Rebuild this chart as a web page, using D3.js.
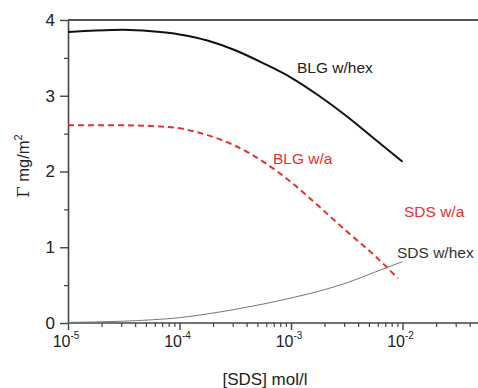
<!DOCTYPE html>
<html>
<head>
<meta charset="utf-8">
<script src="https://cdn.jsdelivr.net/npm/d3@7"></script>
<style>
  body { margin: 0; background: #fff; }
  svg { display: block; font-family: "Liberation Sans", Arial, sans-serif; }
</style>
</head>
<body>
<div id="chart"></div>
<script>
// concentrations (mol/l) on the log axis
const sdsConc = [1e-5, 1.78e-5, 3.16e-5, 5.62e-5, 1e-4, 1.78e-4, 3.16e-4, 5.62e-4, 1e-3, 1.78e-3, 3.16e-3, 5.62e-3, 1e-2];
const sdsConcRed = [1e-5, 1.78e-5, 3.16e-5, 5.62e-5, 1e-4, 1.78e-4, 3.16e-4, 5.62e-4, 1e-3, 1.78e-3, 3.16e-3, 5.62e-3, 9.1e-3];

const blgHex = [3.84, 3.86, 3.87, 3.85, 3.81, 3.73, 3.60, 3.43, 3.24, 3.00, 2.73, 2.43, 2.13];
const blgWa = [2.61, 2.61, 2.61, 2.60, 2.57, 2.48, 2.34, 2.13, 1.86, 1.54, 1.21, 0.89, 0.59];
const sdsHex = [0.008, 0.014, 0.024, 0.042, 0.07, 0.12, 0.18, 0.25, 0.33, 0.42, 0.53, 0.67, 0.81];

const yTicks = [0, 1, 2, 3, 4];
const xTicks = [1e-5, 1e-4, 1e-3, 1e-2];

const width = 478, height = 388;
const mLeft = 68, mTop = 20, mBottom = 323;

const svg = d3.select('#chart').append('svg')
  .attr('width', width)
  .attr('height', height);

const x = d3.scaleLog().domain([1e-5, 1e-1]).range([mLeft, mLeft + 4 * 111.5]);
const y = d3.scaleLinear().domain([0, 4]).range([mBottom, mTop]);

// x axis: major + minor log ticks
const minor = [];
for (let e = -5; e < -1; e++) {
  for (let k = 2; k <= 9; k++) minor.push(k * Math.pow(10, e));
}

svg.append('g')
  .attr('transform', `translate(0, ${mBottom})`)
  .call(d3.axisBottom(x).tickValues(minor.filter((v) => x(v) < width)).tickSize(4).tickFormat(''))
  .call((g) => g.select('.domain').remove())
  .selectAll('line').attr('stroke', '#444').attr('stroke-width', 1.2);

const xAxis = svg.append('g')
  .attr('transform', `translate(0, ${mBottom})`)
  .call(d3.axisBottom(x).tickValues(xTicks).tickSize(7).tickSizeOuter(0).tickFormat(''));
xAxis.select('.domain').attr('stroke', '#444').attr('stroke-width', 1.6)
  .attr('d', `M${mLeft},0H${width}`);
xAxis.selectAll('line').attr('stroke', '#444').attr('stroke-width', 1.4);

xTicks.forEach((v) => {
  const t = svg.append('text')
    .attr('x', x(v) - 2)
    .attr('y', 347)
    .attr('text-anchor', 'middle')
    .attr('font-size', 16)
    .attr('fill', '#222');
  t.append('tspan').text('10');
  t.append('tspan').attr('dy', -8).attr('font-size', 10).text(Math.round(Math.log10(v)));
});

// y axis
const yAxis = svg.append('g')
  .attr('transform', `translate(${mLeft}, 0)`)
  .call(d3.axisLeft(y).tickValues(yTicks).tickFormat(d3.format('d')).tickSize(8).tickSizeOuter(0).tickPadding(5));
yAxis.select('.domain').attr('stroke', '#444').attr('stroke-width', 1.6);
yAxis.selectAll('line').attr('stroke', '#444').attr('stroke-width', 1.4);
yAxis.selectAll('text').attr('font-size', 17).attr('fill', '#222')
  .attr('font-family', '"Liberation Sans", Arial, sans-serif');

svg.append('g')
  .attr('transform', `translate(${mLeft}, 0)`)
  .call(d3.axisLeft(y).tickValues([0.5, 1.5, 2.5, 3.5]).tickSize(4).tickFormat(''))
  .call((g) => g.select('.domain').remove())
  .selectAll('line').attr('stroke', '#444').attr('stroke-width', 1.2);

// top frame line
svg.append('line')
  .attr('x1', mLeft).attr('x2', width)
  .attr('y1', y(4)).attr('y2', y(4))
  .attr('stroke', '#555').attr('stroke-width', 2);

// axis titles
svg.append('text')
  .attr('x', 265).attr('y', 385)
  .attr('text-anchor', 'middle')
  .attr('font-size', 17)
  .attr('fill', '#222')
  .text('[SDS] mol/l');

const yl = svg.append('text')
  .attr('transform', `translate(29, 166) rotate(-90)`)
  .attr('text-anchor', 'middle')
  .attr('font-size', 16.5)
  .attr('fill', '#222');
yl.append('tspan').attr('font-family', '"DejaVu Serif", serif').text('Γ');
yl.append('tspan').text(' mg/m');
yl.append('tspan').attr('dy', -7).attr('font-size', 11).text('2');

// curves
const line = (xs) => d3.line()
  .x((d, i) => x(xs[i]))
  .y((d) => y(d))
  .curve(d3.curveMonotoneX);

svg.append('path')
  .datum(sdsHex)
  .attr('d', line(sdsConc))
  .attr('fill', 'none')
  .attr('stroke', '#777')
  .attr('stroke-width', 1);

svg.append('path')
  .datum(blgHex)
  .attr('d', line(sdsConc))
  .attr('fill', 'none')
  .attr('stroke', '#111')
  .attr('stroke-width', 2);

svg.append('path')
  .datum(blgWa)
  .attr('d', line(sdsConcRed))
  .attr('fill', 'none')
  .attr('stroke', '#e8302c')
  .attr('stroke-width', 2)
  .attr('stroke-dasharray', '6,4');

// curve labels
const labels = [
  {text: 'BLG w/hex', x: 297, y: 73, color: '#222'},
  {text: 'BLG w/a', x: 273, y: 164, color: '#e8302c'},
  {text: 'SDS w/a', x: 404, y: 217, color: '#e8302c'},
  {text: 'SDS w/hex', x: 397, y: 258, color: '#333'}
];
svg.selectAll('.lbl')
  .data(labels)
  .enter()
  .append('text')
  .attr('class', 'lbl')
  .attr('x', (d) => d.x)
  .attr('y', (d) => d.y)
  .attr('font-size', 15.5)
  .attr('fill', (d) => d.color)
  .text((d) => d.text);
</script>
</body>
</html>
